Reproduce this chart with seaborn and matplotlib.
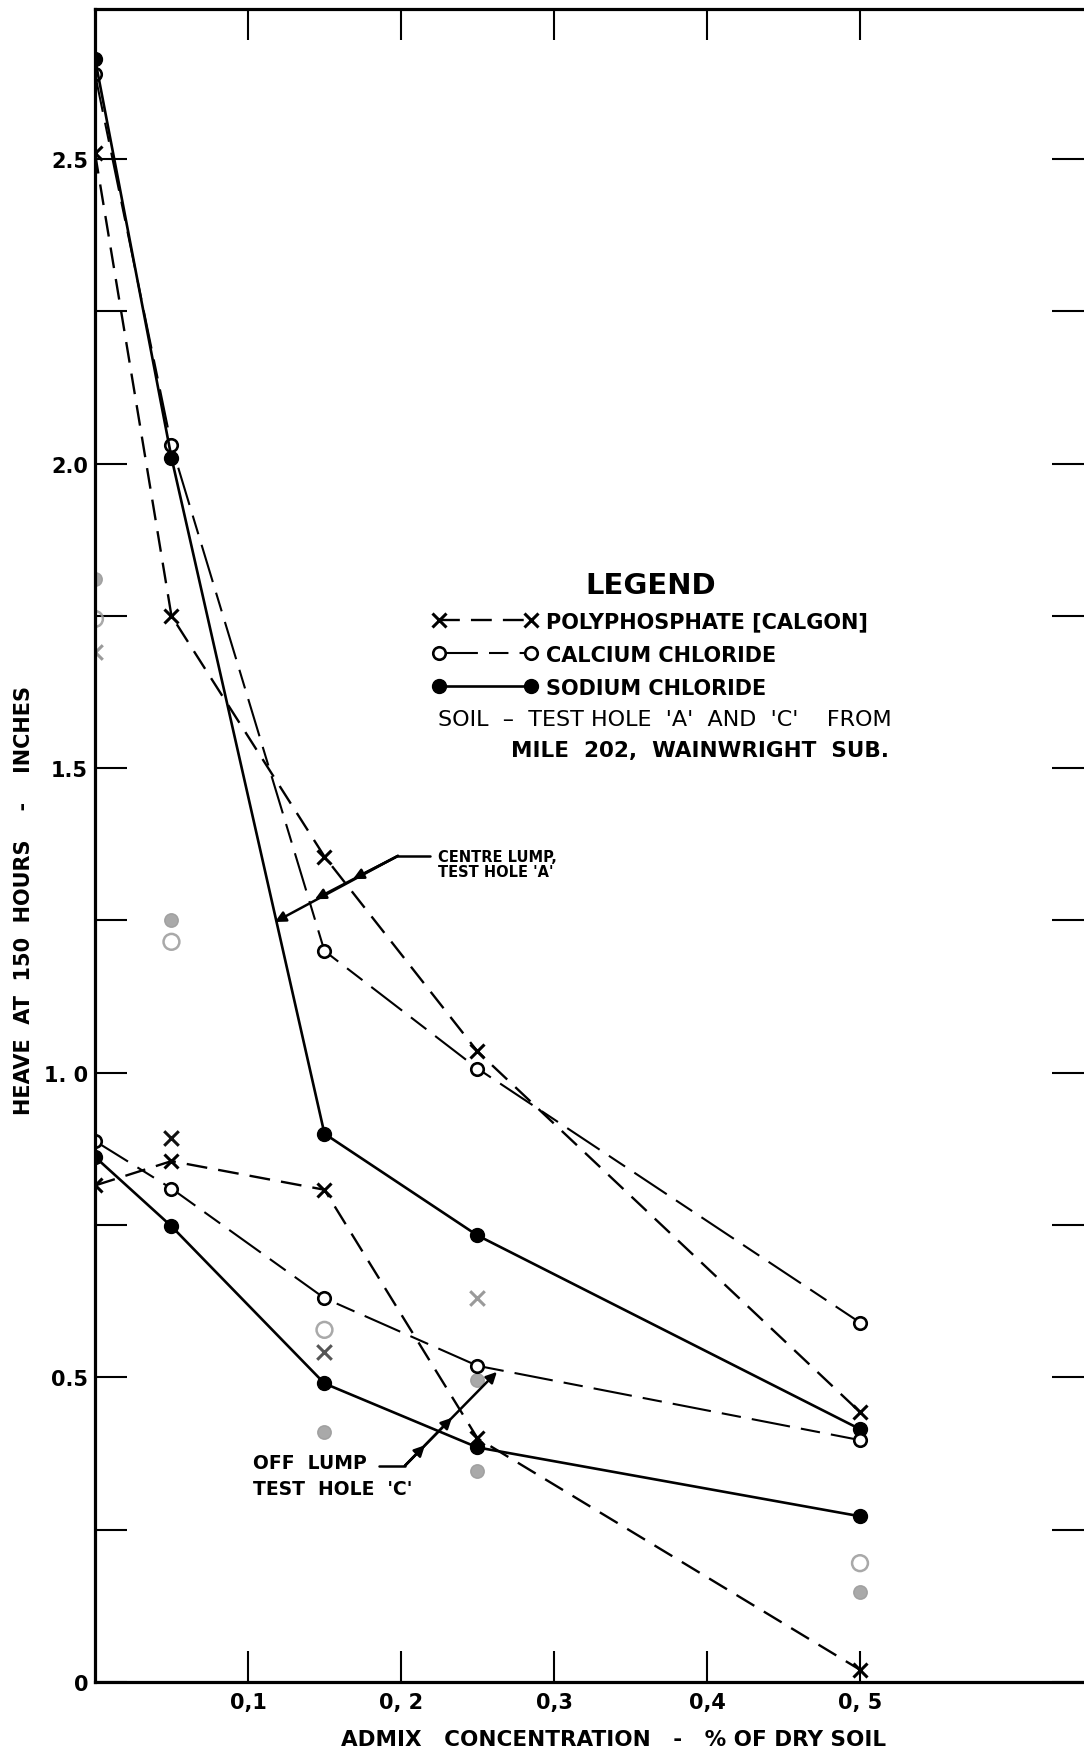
import matplotlib
matplotlib.use("Agg")
import matplotlib.pyplot as plt
import seaborn as sns
import pandas as pd

# ---------------- data ----------------
conc = [0.0, 0.05, 0.15, 0.25, 0.5]          # admix concentration, % of dry soil

# Centre lump, test hole 'A'
poly_A = [2.51, 1.75, 1.355, 1.035, 0.443]
cacl_A = [2.64, 2.03, 1.20, 1.007, 0.59]
nacl_A = [2.665, 2.01, 0.90, 0.733, 0.415]

# Off lump, test hole 'C'
poly_C = [0.815, 0.855, 0.808, 0.40, 0.02]
cacl_C = [0.888, 0.81, 0.63, 0.519, 0.397]
nacl_C = [0.862, 0.748, 0.49, 0.385, 0.272]

# faint, unconnected points
extra_conc = [0.0, 0.0, 0.0, 0.05, 0.05, 0.05, 0.15, 0.15, 0.15, 0.25, 0.25, 0.25, 0.5, 0.5]
extra_heave = [1.81, 1.745, 1.69, 1.25, 1.215, 0.893, 0.578, 0.542, 0.41, 0.631, 0.495, 0.347, 0.195, 0.148]
extra_kind = ["filled", "open", "cross", "filled", "open", "cross", "open", "cross",
              "filled", "cross", "filled", "filled", "open", "filled"]
extra_tone = ["light", "light", "light", "light", "light", "dark", "light", "mid",
              "light", "light", "light", "light", "light", "light"]

series_labels = ["POLYPHOSPHATE [CALGON]", "CALCIUM CHLORIDE", "SODIUM CHLORIDE"]
x_ticks = [0.1, 0.2, 0.3, 0.4, 0.5]
x_tick_labels = ["0,1", "0, 2", "0,3", "0,4", "0, 5"]
y_ticks = [0, 0.25, 0.5, 0.75, 1.0, 1.25, 1.5, 1.75, 2.0, 2.25, 2.5]
y_tick_labels = ["0", "", "0.5", "", "1. 0", "", "1.5", "", "2.0", "", "2.5"]

# ---------------- styling ----------------
sns.set_theme(style="ticks", rc={"axes.edgecolor": "black", "xtick.color": "black",
                                 "ytick.color": "black", "text.color": "black",
                                 "axes.labelcolor": "black"})
plt.rcParams["font.family"] = ["DejaVu Sans"]
plt.rcParams["lines.scale_dashes"] = False

fig = plt.figure(figsize=(10.84, 17.56), dpi=100)
ax = fig.add_axes([0.0876, 0.0416, 0.9124, 0.9526])
ax.set_xlim(0, 0.6464)
ax.set_ylim(0, 2.746)

POLY_STYLE = dict(linestyle=(0, (15, 8)), linewidth=1.7, marker="x", markersize=10,
                  markeredgewidth=2.2, markeredgecolor="black")
CACL_STYLE = dict(linestyle=(0, (28, 8, 14, 8)), linewidth=1.5, marker="o", markersize=9,
                  markerfacecolor="white", markeredgewidth=1.9, markeredgecolor="black")
NACL_STYLE = dict(linestyle="-", linewidth=1.9, marker="o", markersize=10,
                  markerfacecolor="black", markeredgewidth=1, markeredgecolor="black")

handles = []
for vals, style, lab in [(poly_A, POLY_STYLE, series_labels[0]),
                         (cacl_A, CACL_STYLE, series_labels[1]),
                         (nacl_A, NACL_STYLE, series_labels[2])]:
    sns.lineplot(x=conc, y=vals, ax=ax, color="black", legend=False,
                 estimator=None, sort=False, label=lab, **style)
    handles.append(ax.lines[-1])
for vals, style in [(poly_C, POLY_STYLE), (cacl_C, CACL_STYLE), (nacl_C, NACL_STYLE)]:
    sns.lineplot(x=conc, y=vals, ax=ax, color="black", legend=False,
                 estimator=None, sort=False, **style)

# faint extra points
extra = pd.DataFrame({"conc": extra_conc, "heave": extra_heave,
                      "kind": extra_kind, "tone": extra_tone})
tone_col = {"light": "#9a9a9a", "mid": "#555555", "dark": "#111111"}
for (kind, tone), sub in extra.groupby(["kind", "tone"]):
    c = tone_col[tone]
    if kind == "filled":
        sns.scatterplot(data=sub, x="conc", y="heave", ax=ax, marker="o", s=95,
                        color=c, edgecolor=c, linewidth=1, alpha=0.85, legend=False, zorder=1)
    elif kind == "open":
        sns.scatterplot(data=sub, x="conc", y="heave", ax=ax, marker="o", s=130,
                        facecolor="none", edgecolor=c, linewidth=1.8, alpha=0.85,
                        legend=False, zorder=1)
    else:
        sns.scatterplot(data=sub, x="conc", y="heave", ax=ax, marker="x", s=110,
                        color=c, linewidth=2.2, legend=False, zorder=1)

# ---------------- axes ----------------
for side in ["left", "bottom", "top"]:
    ax.spines[side].set_linewidth(2.3)
    ax.spines[side].set_color("black")
ax.spines["right"].set_visible(False)

ax.set_xticks(x_ticks)
ax.set_xticklabels(x_tick_labels)
ax.set_yticks(y_ticks)
ax.set_yticklabels(y_tick_labels)
ax.tick_params(axis="x", top=True, bottom=True, direction="in", length=22, width=1.5,
               pad=7, labelsize=15)
ax.tick_params(axis="y", left=True, right=True, direction="in", length=23, width=1.5,
               pad=5, labelsize=15)
for t in ax.get_xticklabels() + ax.get_yticklabels():
    t.set_fontweight("bold")

ax.set_xlabel("ADMIX   CONCENTRATION   -   % OF DRY SOIL", fontsize=15.5, fontweight="bold")
ax.xaxis.set_label_coords(0.5248, -0.028)
ax.set_ylabel("HEAVE  AT  150  HOURS    -    INCHES", fontsize=15, fontweight="bold")
ax.yaxis.set_label_coords(-0.062, 0.468)

# ---------------- legend ----------------
leg = ax.legend(handles, series_labels, loc="upper left", bbox_to_anchor=(0.221, 1.824),
                bbox_transform=ax.transData, frameon=False, numpoints=2, handlelength=5.0,
                handletextpad=0.4, labelspacing=0.62, borderpad=0, borderaxespad=0,
                title="LEGEND", title_fontproperties={"weight": "bold", "size": 21},
                prop={"weight": "bold", "size": 15})
ax.text(0.224, 1.581, "SOIL  \u2013  TEST HOLE  'A'  AND  'C'    FROM", fontsize=16,
        va="center", ha="left")
ax.text(0.272, 1.530, "MILE  202,  WAINWRIGHT  SUB.", fontsize=15.5, fontweight="bold",
        va="center", ha="left")

# ---------------- annotations ----------------
arrow_kw = dict(arrowstyle="-|>", mutation_scale=16, lw=1.8, color="black",
                shrinkA=0, shrinkB=0)
# centre lump
c_start = (0.198, 1.356)
ax.plot([c_start[0], 0.219], [c_start[1], c_start[1]], color="black", lw=1.8)
for head in [(0.1686, 1.318), (0.1438, 1.285), (0.1176, 1.2475)]:
    ax.annotate("", xy=head, xytext=c_start, arrowprops=arrow_kw)
ax.text(0.224, 1.343, "CENTRE LUMP,\nTEST HOLE 'A'", fontsize=10.5, fontweight="bold",
        va="center", ha="left", linespacing=1.0)
# off lump
o_start = (0.2026, 0.355)
ax.plot([0.1855, o_start[0]], [o_start[1], o_start[1]], color="black", lw=1.8)
for head in [(0.2157, 0.3886), (0.2333, 0.4337), (0.2627, 0.509)]:
    ax.annotate("", xy=head, xytext=o_start, arrowprops=arrow_kw)
ax.text(0.103, 0.339, "OFF  LUMP\nTEST  HOLE  'C'", fontsize=13.5, fontweight="bold",
        va="center", ha="left", linespacing=1.45)

fig.savefig("out.png", dpi=100)
